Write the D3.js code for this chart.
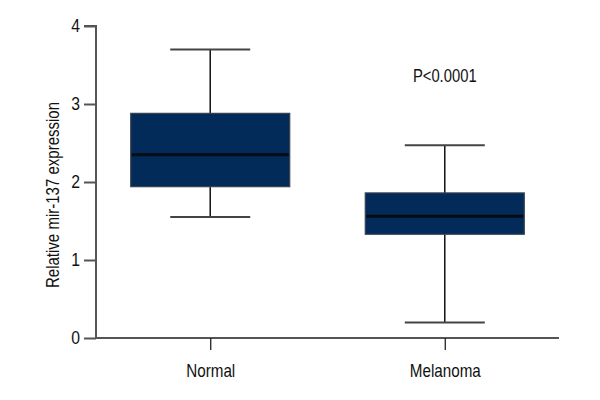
<!DOCTYPE html>
<html>
<head>
<meta charset="utf-8">
<script src="https://cdn.jsdelivr.net/npm/d3@7"></script>
<style>
  body { margin: 0; background: #fff; }
  svg { display: block; }
  text { font-family: "Liberation Sans", Arial, sans-serif; fill: #111; }
</style>
</head>
<body>
<svg id="chart" width="600" height="400"></svg>
<script>
const categories = ["Normal", "Melanoma"];
const whiskerLow  = [1.55, 0.20];
const q1Values    = [1.94, 1.33];
const medians     = [2.35, 1.56];
const q3Values    = [2.88, 1.86];
const whiskerHigh = [3.70, 2.47];
const yTicks = [0, 1, 2, 3, 4];
const yLabel = "Relative mir-137 expression";
const pLabel = "P<0.0001";

(function () {
const svg = d3.select("#chart");
const mLeft = 96, mRight = 559, mTop = 26, mBottom = 338;

const x = d3.scalePoint().domain(categories).range([mLeft, mRight]).padding(0.487);
const y = d3.scaleLinear().domain([0, 4]).range([mBottom, mTop]);

const axisColor = "#555";
const fontFam = "Liberation Sans, Arial, sans-serif";
function squeeze(sel, condense) {
  sel.each(function () {
    const w = this.getComputedTextLength();
    d3.select(this).attr("textLength", w * condense).attr("lengthAdjust", "spacingAndGlyphs");
  });
}

// Y axis
const yAxis = svg.append("g").attr("transform", `translate(${mLeft},0)`)
  .call(d3.axisLeft(y).tickValues(yTicks).tickSize(12).tickPadding(4).tickFormat(d3.format("d")));
yAxis.select(".domain").attr("stroke", axisColor).attr("stroke-width", 2).attr("d", `M-12,${mTop}H0V${mBottom}`);
yAxis.selectAll(".tick line").attr("stroke", axisColor).attr("stroke-width", 2);
yAxis.selectAll(".tick text").attr("font-size", 18.5).attr("fill", "#111").attr("font-family", fontFam).call(squeeze, 0.85);

// X axis
const xAxis = svg.append("g").attr("transform", `translate(0,${mBottom})`)
  .call(d3.axisBottom(x).tickSize(12).tickPadding(14));
xAxis.select(".domain").attr("stroke", axisColor).attr("stroke-width", 2).attr("d", `M${mLeft},0H${mRight}`);
xAxis.selectAll(".tick line").attr("stroke", "#222").attr("stroke-width", 1.3);
xAxis.selectAll(".tick text").attr("font-size", 19).attr("fill", "#111").attr("font-family", fontFam).call(squeeze, 0.8);

// Y label
svg.append("text")
  .attr("transform", `translate(58.5,${(mTop + mBottom) / 2 + 13}) rotate(-90)`)
  .attr("text-anchor", "middle")
  .attr("font-size", 19)
  .text(yLabel)
  .call(squeeze, 0.79);

// Boxes
const data = categories.map((c, i) => ({
  c, lo: whiskerLow[i], q1: q1Values[i], med: medians[i], q3: q3Values[i], hi: whiskerHigh[i]
}));
const boxW = 159, capW = 80;
const g = svg.append("g");
const box = g.selectAll("g.box").data(data).join("g").attr("class", "box");

box.append("line")
  .attr("x1", d => x(d.c)).attr("x2", d => x(d.c))
  .attr("y1", d => y(d.hi)).attr("y2", d => y(d.q3))
  .attr("stroke", "#111").attr("stroke-width", 1.5);
box.append("line")
  .attr("x1", d => x(d.c)).attr("x2", d => x(d.c))
  .attr("y1", d => y(d.q1)).attr("y2", d => y(d.lo))
  .attr("stroke", "#111").attr("stroke-width", 1.5);
box.append("line")
  .attr("x1", d => x(d.c) - capW / 2).attr("x2", d => x(d.c) + capW / 2)
  .attr("y1", d => y(d.hi)).attr("y2", d => y(d.hi))
  .attr("stroke", "#444").attr("stroke-width", 2);
box.append("line")
  .attr("x1", d => x(d.c) - capW / 2).attr("x2", d => x(d.c) + capW / 2)
  .attr("y1", d => y(d.lo)).attr("y2", d => y(d.lo))
  .attr("stroke", "#444").attr("stroke-width", 2);
box.append("rect")
  .attr("x", d => x(d.c) - boxW / 2).attr("width", boxW)
  .attr("y", d => y(d.q3)).attr("height", d => y(d.q1) - y(d.q3))
  .attr("fill", "#022b59").attr("stroke", "#3a4150").attr("stroke-width", 1.2);
box.append("line")
  .attr("x1", d => x(d.c) - boxW / 2 + 1).attr("x2", d => x(d.c) + boxW / 2 - 1)
  .attr("y1", d => y(d.med)).attr("y2", d => y(d.med))
  .attr("stroke", "#070b14").attr("stroke-width", 3);

// P value
svg.append("text")
  .attr("x", x("Melanoma")).attr("y", 82)
  .attr("text-anchor", "middle")
  .attr("font-size", 18.5)
  .text(pLabel)
  .call(squeeze, 0.8);
})();
</script>
</body>
</html>
